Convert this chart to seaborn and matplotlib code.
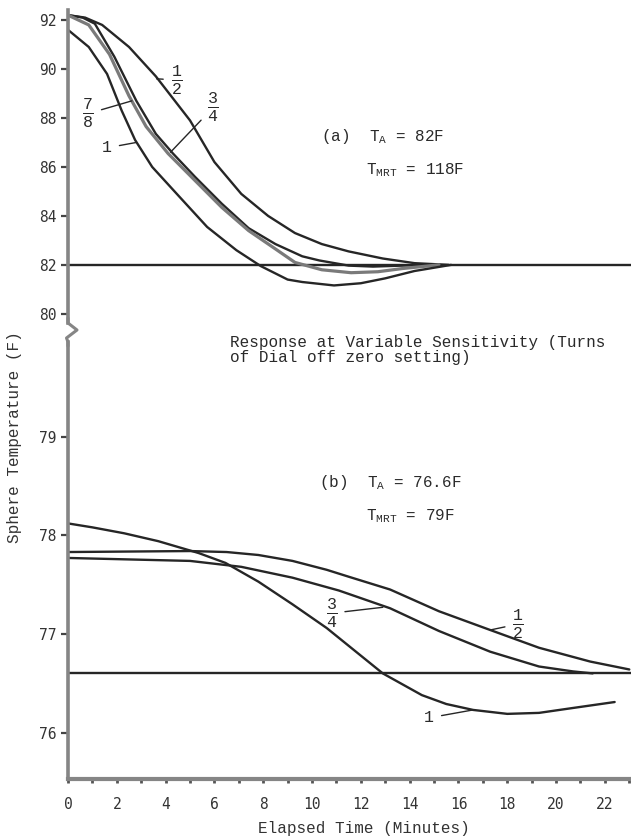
import numpy as np
import pandas as pd
import matplotlib
matplotlib.use("Agg")
import matplotlib.pyplot as plt
from matplotlib.lines import Line2D
import seaborn as sns

# ---------------- data ----------------
# (a) T_A = 82F, T_MRT = 118F
a_half_min = [0.0, 0.7, 1.4, 2.5, 3.6, 5.0, 6.0, 7.1, 8.2, 9.3, 10.4, 11.5, 12.9, 14.2, 15.6]
a_half_tmp = [92.2, 92.1, 91.8, 90.9, 89.7, 87.9, 86.2, 84.9, 84.0, 83.3, 82.85, 82.55, 82.26, 82.07, 82.0]

a_3q_min = [0.0, 0.6, 1.1, 1.9, 2.8, 3.6, 4.3, 5.2, 6.3, 7.4, 8.5, 9.6, 10.3, 11.5, 12.5, 13.7, 14.6]
a_3q_tmp = [92.2, 92.1, 91.85, 90.5, 88.7, 87.35, 86.55, 85.6, 84.5, 83.5, 82.85, 82.35, 82.18, 81.97, 81.93, 81.97, 82.0]

a_7e_min = [0.0, 0.85, 1.7, 2.5, 3.2, 4.1, 5.2, 6.3, 7.4, 8.5, 9.3, 10.4, 11.6, 12.7, 13.7, 15.2]
a_7e_tmp = [92.2, 91.8, 90.6, 88.9, 87.65, 86.55, 85.45, 84.35, 83.4, 82.65, 82.1, 81.8, 81.68, 81.72, 81.85, 82.0]

a_one_min = [0.0, 0.85, 1.6, 2.2, 2.75, 3.45, 4.55, 5.7, 6.9, 7.9, 9.0, 9.6, 10.9, 12.0, 13.0, 14.2, 15.7]
a_one_tmp = [91.6, 90.9, 89.8, 88.3, 87.1, 86.0, 84.8, 83.55, 82.6, 81.95, 81.4, 81.3, 81.16, 81.25, 81.45, 81.75, 82.0]

a_ambient = 82.0

# (b) T_A = 76.6F, T_MRT = 79F
b_one_min = [0.0, 1.0, 2.3, 3.7, 5.35, 6.45, 7.8, 9.2, 10.6, 11.5, 12.9, 14.5, 15.5, 16.6, 18.0, 19.3, 20.7, 22.4]
b_one_tmp = [78.12, 78.08, 78.02, 77.94, 77.82, 77.72, 77.53, 77.3, 77.06, 76.88, 76.6, 76.38, 76.29, 76.23, 76.19, 76.2, 76.25, 76.31]

b_half_min = [0.0, 5.0, 6.5, 7.8, 9.2, 10.6, 11.5, 13.2, 15.2, 17.3, 19.3, 21.4, 23.0]
b_half_tmp = [77.83, 77.84, 77.83, 77.8, 77.74, 77.65, 77.58, 77.45, 77.23, 77.04, 76.86, 76.72, 76.64]

b_3q_min = [0.0, 5.0, 7.1, 9.2, 11.1, 13.2, 15.2, 17.3, 19.3, 20.7, 21.5]
b_3q_tmp = [77.77, 77.74, 77.68, 77.57, 77.44, 77.26, 77.03, 76.82, 76.67, 76.62, 76.6]

b_ambient = 76.6

top_yticks = [80, 82, 84, 86, 88, 90, 92]
bot_yticks = [76, 77, 78, 79]
x_major = list(range(0, 23, 2))
x_minor = list(range(0, 24, 1))

# ---------------- style ----------------
sns.set_theme(style="white")
plt.rcParams['font.family'] = ['Liberation Mono', 'DejaVu Sans Mono']
plt.rcParams['mathtext.fontset'] = 'custom'
plt.rcParams['mathtext.rm'] = 'Liberation Mono'
plt.rcParams['mathtext.it'] = 'Liberation Mono'
plt.rcParams['mathtext.tt'] = 'Liberation Mono'
plt.rcParams['mathtext.bf'] = 'Liberation Mono'

INK = '#262626'
AXC = '#858585'

W, H = 631, 838
fig = plt.figure(figsize=(W / 100, H / 100), dpi=100)
fig.patch.set_facecolor('white')

left = 68 / W
width = 563 / W
ax_top = fig.add_axes([left, (H - 330) / H, width, 320 / H])
ax_bot = fig.add_axes([left, (H - 779) / H, width, 449 / H])

def frame(name, xs, ys):
    return pd.DataFrame({'minutes': xs, 'temp': ys, 'setting': name})

top_df = pd.concat([
    frame('1/2', a_half_min, a_half_tmp),
    frame('3/4', a_3q_min, a_3q_tmp),
    frame('7/8', a_7e_min, a_7e_tmp),
    frame('1', a_one_min, a_one_tmp),
], ignore_index=True)

bot_df = pd.concat([
    frame('1/2', b_half_min, b_half_tmp),
    frame('3/4', b_3q_min, b_3q_tmp),
    frame('1', b_one_min, b_one_tmp),
], ignore_index=True)

pal_top = {'1/2': INK, '3/4': INK, '7/8': '#7a7a7a', '1': INK}
sns.lineplot(data=top_df, x='minutes', y='temp', hue='setting', units='setting',
             estimator=None, sort=False, palette=pal_top, legend=False,
             linewidth=1.7, ax=ax_top)
pal_bot = {'1/2': INK, '3/4': INK, '1': INK}
sns.lineplot(data=bot_df, x='minutes', y='temp', hue='setting', units='setting',
             estimator=None, sort=False, palette=pal_bot, legend=False,
             linewidth=1.7, ax=ax_bot)
# the 7/8 curve looks doubled / grey
ax_top.lines[2].set_linewidth(2.3)

ax_top.axhline(a_ambient, color=INK, lw=1.7, zorder=1)
ax_bot.axhline(b_ambient, color=INK, lw=1.7, zorder=1)

xmax = 23.07
for ax in (ax_top, ax_bot):
    ax.set_xlim(0, xmax)
    ax.set_facecolor('none')
    ax.set_xlabel('')
    ax.set_ylabel('')
    ax.grid(False)
    for s in ('top', 'right'):
        ax.spines[s].set_visible(False)
    ax.spines['left'].set_color(AXC)
    ax.spines['left'].set_linewidth(2.6)

ax_top.set_ylim(79.34, 92.41)
ax_bot.set_ylim(75.53, 80.08)

ax_top.spines['bottom'].set_visible(False)
ax_top.tick_params(axis='x', bottom=False, labelbottom=False)
ax_top.set_yticks(top_yticks)
ax_bot.set_yticks(bot_yticks)
ax_top.spines['left'].set_bounds(79.63, 92.41)
ax_bot.spines['left'].set_bounds(75.53, 79.96)

ax_bot.spines['bottom'].set_color(AXC)
ax_bot.spines['bottom'].set_linewidth(3.0)
ax_bot.set_xticks(x_major)
ax_bot.set_xticks(x_minor, minor=True)
ax_bot.set_xticklabels([str(v) for v in x_major])

for ax in (ax_top, ax_bot):
    ax.tick_params(axis='y', left=True, direction='out', length=5, width=1.6,
                   color='#444444', labelsize=10.5, pad=3, labelcolor='#333333')
    plt.setp(ax.get_yticklabels(), family='DejaVu Sans Mono')
ax_bot.tick_params(axis='x', which='both', bottom=True, direction='out', length=3,
                   width=2.0, color='#555555', labelsize=10.5, pad=10,
                   labelcolor='#333333')
plt.setp(ax_bot.get_xticklabels(), family='DejaVu Sans Mono')

# axis break zigzag
zz_x = np.array([68, 68, 77, 66.5, 68, 68]) / W
zz_y = 1 - np.array([318, 323, 330, 338, 342, 346]) / H
fig.add_artist(Line2D(zz_x, zz_y, color=AXC, lw=2.2, transform=fig.transFigure))

# axis labels
fig.text(15 / W, 1 - 437 / H, 'Sphere Temperature (F)', rotation=90,
         ha='center', va='center', fontsize=11.5, color='#333333')
fig.text(364 / W, 1 - 828 / H, 'Elapsed Time (Minutes)', ha='center',
         va='center', fontsize=11.5, color='#333333')

# central note
fig.text(230 / W, 1 - 350 / H,
         'Response at Variable Sensitivity (Turns\nof Dial off zero setting)',
         ha='left', va='center', fontsize=11.5, linespacing=0.95, color='#2a2a2a')

# condition texts
ax_top.text(10.35, 87.23, r'(a)  T$_{\mathrm{A}}$ = 82F', ha='left', va='center',
            fontsize=11.5, color='#2a2a2a')
ax_top.text(12.2, 85.87, r'T$_{\mathrm{MRT}}$ = 118F', ha='left', va='center',
            fontsize=11.5, color='#2a2a2a')
ax_bot.text(10.3, 78.53, r'(b)  T$_{\mathrm{A}}$ = 76.6F', ha='left', va='center',
            fontsize=11.5, color='#2a2a2a')
ax_bot.text(12.2, 78.19, r'T$_{\mathrm{MRT}}$ = 79F', ha='left', va='center',
            fontsize=11.5, color='#2a2a2a')

# curve labels with leader lines
lead = dict(arrowstyle='-', color=INK, lw=1.0, shrinkA=3, shrinkB=0)
def lab(ax, txt, xy, xytext, size=17):
    ax.annotate(txt, xy=xy, xytext=xytext, ha='center', va='center',
                fontsize=size, color='#2a2a2a', arrowprops=lead)

lab(ax_top, r'$\frac{1}{2}$', (3.63, 89.6), (4.45, 89.55))
lab(ax_top, r'$\frac{3}{4}$', (4.2, 86.6), (5.95, 88.43))
lab(ax_top, r'$\frac{7}{8}$', (2.62, 88.7), (0.83, 88.18))
lab(ax_top, '1', (2.8, 87.0), (1.6, 86.78), size=12)

lab(ax_bot, r'$\frac{3}{4}$', (12.9, 77.27), (10.8, 77.21))
lab(ax_bot, r'$\frac{1}{2}$', (17.3, 77.04), (18.45, 77.1))
lab(ax_bot, '1', (16.6, 76.23), (14.8, 76.15), size=12)

fig.savefig('out.png', dpi=100, facecolor='white')
